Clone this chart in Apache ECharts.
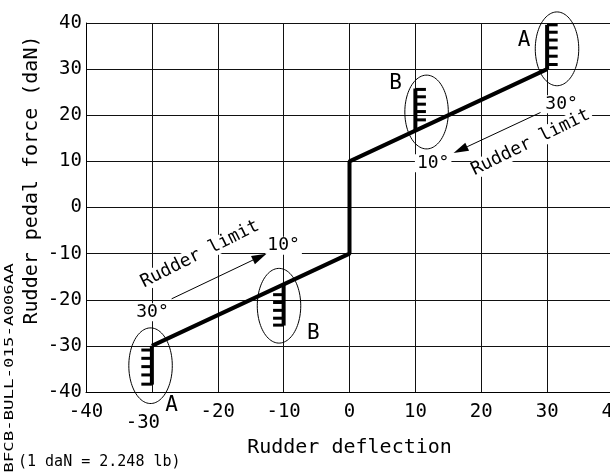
<!DOCTYPE html>
<html><head><meta charset="utf-8">
<script src="https://cdn.jsdelivr.net/npm/echarts@6/dist/echarts.min.js"></script>
<style>html,body{margin:0;padding:0;background:#fff}#c{width:610px;height:474px}</style>
</head><body><div id="c"></div>
<script>
// ---- data ----
const xTicks = [-40, -30, -20, -10, 0, 10, 20, 30, 40];
const yTicks = [-40, -30, -20, -10, 0, 10, 20, 30, 40];
const lineX = [-30, 0, 0, 30];
const lineY = [-30, -10, 10, 30];
const hatchX = [30, 10, -10, -30];
const hatchY0 = [30, 16.7, -16.7, -30];
const hatchY1 = [39.6, 25.8, -25.6, -38.4];
const hatchTeeth = [
  [31.0, 32.8, 34.6, 36.3, 38.0, 39.6],
  [19.0, 20.8, 22.4, 24.0, 25.6],
  [-18.9, -20.6, -22.3, -24.0, -25.5],
  [-30.9, -32.7, -34.5, -36.3, -38.3]
];
const toothLen = [1.6, 1.6, -1.6, -1.6];
const ellCX = [31.5, 11.7, -10.7, -30.2];
const ellCY = [34.4, 20.7, -21.3, -34.3];
const ellRX = [3.3, 3.3, 3.3, 3.3];
const ellRY = [8.0, 8.0, 8.1, 8.2];
const letterText = ['A', 'B', 'B', 'A'];
const letterX = [26.5, 7.0, -5.5, -27.0];
const letterY = [36.3, 26.8, -27.3, -43.0];
const noteText = ['30°', '10°', 'Rudder limit', '30°', '10°', 'Rudder limit'];
const noteX = [32.2, 12.7, 27.5, -29.9, -10.0, -22.7];
const noteY = [22.4, 9.6, 14.1, -22.7, -8.3, -10.1];
const noteAngle = [0, 0, 26.2, 0, 0, 26.6];
const arrowX0 = [29.0, -27.0];
const arrowY0 = [20.6, -19.8];
const arrowX1 = [15.8, -12.6];
const arrowY1 = [11.8, -10.0];

const FONT = '"DejaVu Sans Mono", monospace';
const chart = echarts.init(document.getElementById('c'), null, {renderer: 'canvas'});

function hatchRender(params, api) {
  const i = params.dataIndex;
  const x = hatchX[i];
  const p0 = api.coord([x, hatchY0[i]]);
  const p1 = api.coord([x, hatchY1[i]]);
  const children = [{
    type: 'line', shape: {x1: p0[0], y1: p0[1], x2: p1[0], y2: p1[1]},
    style: {stroke: '#000', lineWidth: 4}
  }];
  hatchTeeth[i].forEach(t => {
    const a = api.coord([x, t]);
    const b = api.coord([x + toothLen[i], t]);
    children.push({type: 'line', shape: {x1: a[0], y1: a[1], x2: b[0], y2: b[1]},
      style: {stroke: '#000', lineWidth: 3}});
  });
  return {type: 'group', children};
}

function ellipseRender(params, api) {
  const i = params.dataIndex;
  const c = api.coord([ellCX[i], ellCY[i]]);
  const rx = api.size([ellRX[i], 0])[0];
  const ry = api.size([0, ellRY[i]])[1];
  const pts = [];
  for (let k = 0; k < 90; k++) {
    const a = k / 90 * Math.PI * 2;
    pts.push([c[0] + rx * Math.cos(a), c[1] + ry * Math.sin(a)]);
  }
  return {type: 'polygon', shape: {points: pts}, style: {fill: 'none', stroke: '#000', lineWidth: 1}};
}

function arrowRender(params, api) {
  const i = params.dataIndex;
  const p0 = api.coord([arrowX0[i], arrowY0[i]]);
  const p1 = api.coord([arrowX1[i], arrowY1[i]]);
  const dx = p1[0] - p0[0], dy = p1[1] - p0[1];
  const L = Math.sqrt(dx * dx + dy * dy);
  const ux = dx / L, uy = dy / L;
  const hl = 15, hw = 4.5;
  const bx = p1[0] - ux * hl, by = p1[1] - uy * hl;
  return {type: 'group', children: [
    {type: 'line', shape: {x1: p0[0], y1: p0[1], x2: bx, y2: by}, style: {stroke: '#000', lineWidth: 1}},
    {type: 'polygon', shape: {points: [[p1[0], p1[1]], [bx - uy * hw, by + ux * hw], [bx + uy * hw, by - ux * hw]]},
      style: {fill: '#000'}}
  ]};
}

function noteRender(params, api) {
  const i = params.dataIndex;
  const p = api.coord([noteX[i], noteY[i]]);
  return {type: 'text', x: p[0], y: p[1], rotation: noteAngle[i] * Math.PI / 180,
    style: {text: noteText[i], font: '18px ' + FONT, fill: '#000', align: 'center', verticalAlign: 'middle',
      backgroundColor: '#fff', padding: [0, 2, 0, 2]}};
}

function letterRender(params, api) {
  const i = params.dataIndex;
  const p = api.coord([letterX[i], letterY[i]]);
  return {type: 'text', x: p[0], y: p[1],
    style: {text: letterText[i], font: '21px ' + FONT, fill: '#000', align: 'center', verticalAlign: 'middle'}};
}

const option = {
  animation: false,
  backgroundColor: '#fff',
  grid: {left: 86, right: -3, top: 23, bottom: 82, containLabel: false, outerBoundsMode: 'none'},
  xAxis: {
    type: 'value', min: xTicks[0], max: xTicks[xTicks.length - 1], interval: 10,
    name: 'Rudder deflection', nameLocation: 'middle', nameGap: 38,
    nameTextStyle: {fontFamily: FONT, fontSize: 20, color: '#000'},
    axisLine: {show: true, onZero: false, lineStyle: {color: '#000', width: 1}},
    axisTick: {show: false},
    axisLabel: {
      margin: 11, fontFamily: FONT, fontSize: 19, color: '#000',
      formatter: v => (v === -30 ? '{low|' + v + '}' : String(v)),
      rich: {low: {fontFamily: FONT, fontSize: 19, color: '#000', padding: [11, 18, 0, 0]}}
    },
    splitLine: {show: true, lineStyle: {color: '#111', width: 1}}
  },
  yAxis: {
    type: 'value', min: yTicks[0], max: yTicks[yTicks.length - 1], interval: 10,
    axisLine: {show: true, onZero: false, lineStyle: {color: '#000', width: 1}},
    axisTick: {show: false},
    axisLabel: {margin: 4, fontFamily: FONT, fontSize: 19, color: '#000',
      formatter: v => String(v)},
    splitLine: {show: true, lineStyle: {color: '#111', width: 1}}
  },
  graphic: [
    {type: 'text', x: 32, y: 180, rotation: Math.PI / 2,
      style: {text: 'Rudder pedal force (daN)', font: '20px ' + FONT, fill: '#000', align: 'center', verticalAlign: 'middle'}},
    {type: 'text', x: 10, y: 368, rotation: Math.PI / 2, scaleX: 1.45,
      style: {text: 'BFCB-BULL-015-A006AA', font: '12px ' + FONT, fill: '#000', align: 'center', verticalAlign: 'middle'}},
    {type: 'text', x: 18, y: 462,
      style: {text: '(1 daN = 2.248 lb)', font: '15px ' + FONT, fill: '#000', align: 'left', verticalAlign: 'middle'}}
  ],
  series: [
    {type: 'custom', name: 'notes', renderItem: noteRender, clip: false, z: 3,
      data: noteX.map((x, i) => [x, noteY[i]])},
    {type: 'custom', name: 'arrows', renderItem: arrowRender, clip: false, z: 4,
      data: arrowX0.map((x, i) => [x, arrowY0[i], arrowX1[i], arrowY1[i]])},
    {type: 'custom', name: 'ellipses', renderItem: ellipseRender, clip: false, z: 4,
      data: ellCX.map((x, i) => [x, ellCY[i]])},
    {type: 'custom', name: 'letters', renderItem: letterRender, clip: false, z: 4,
      data: letterX.map((x, i) => [x, letterY[i]])},
    {type: 'line', name: 'pedal force', data: lineX.map((x, i) => [x, lineY[i]]),
      showSymbol: false, symbol: 'none', lineStyle: {color: '#000', width: 4}, z: 5},
    {type: 'custom', name: 'hatch', renderItem: hatchRender, clip: false, z: 5,
      data: hatchX.map((x, i) => [x, hatchY0[i], hatchY1[i]])}
  ]
};
chart.setOption(option);
</script>
</body></html>
